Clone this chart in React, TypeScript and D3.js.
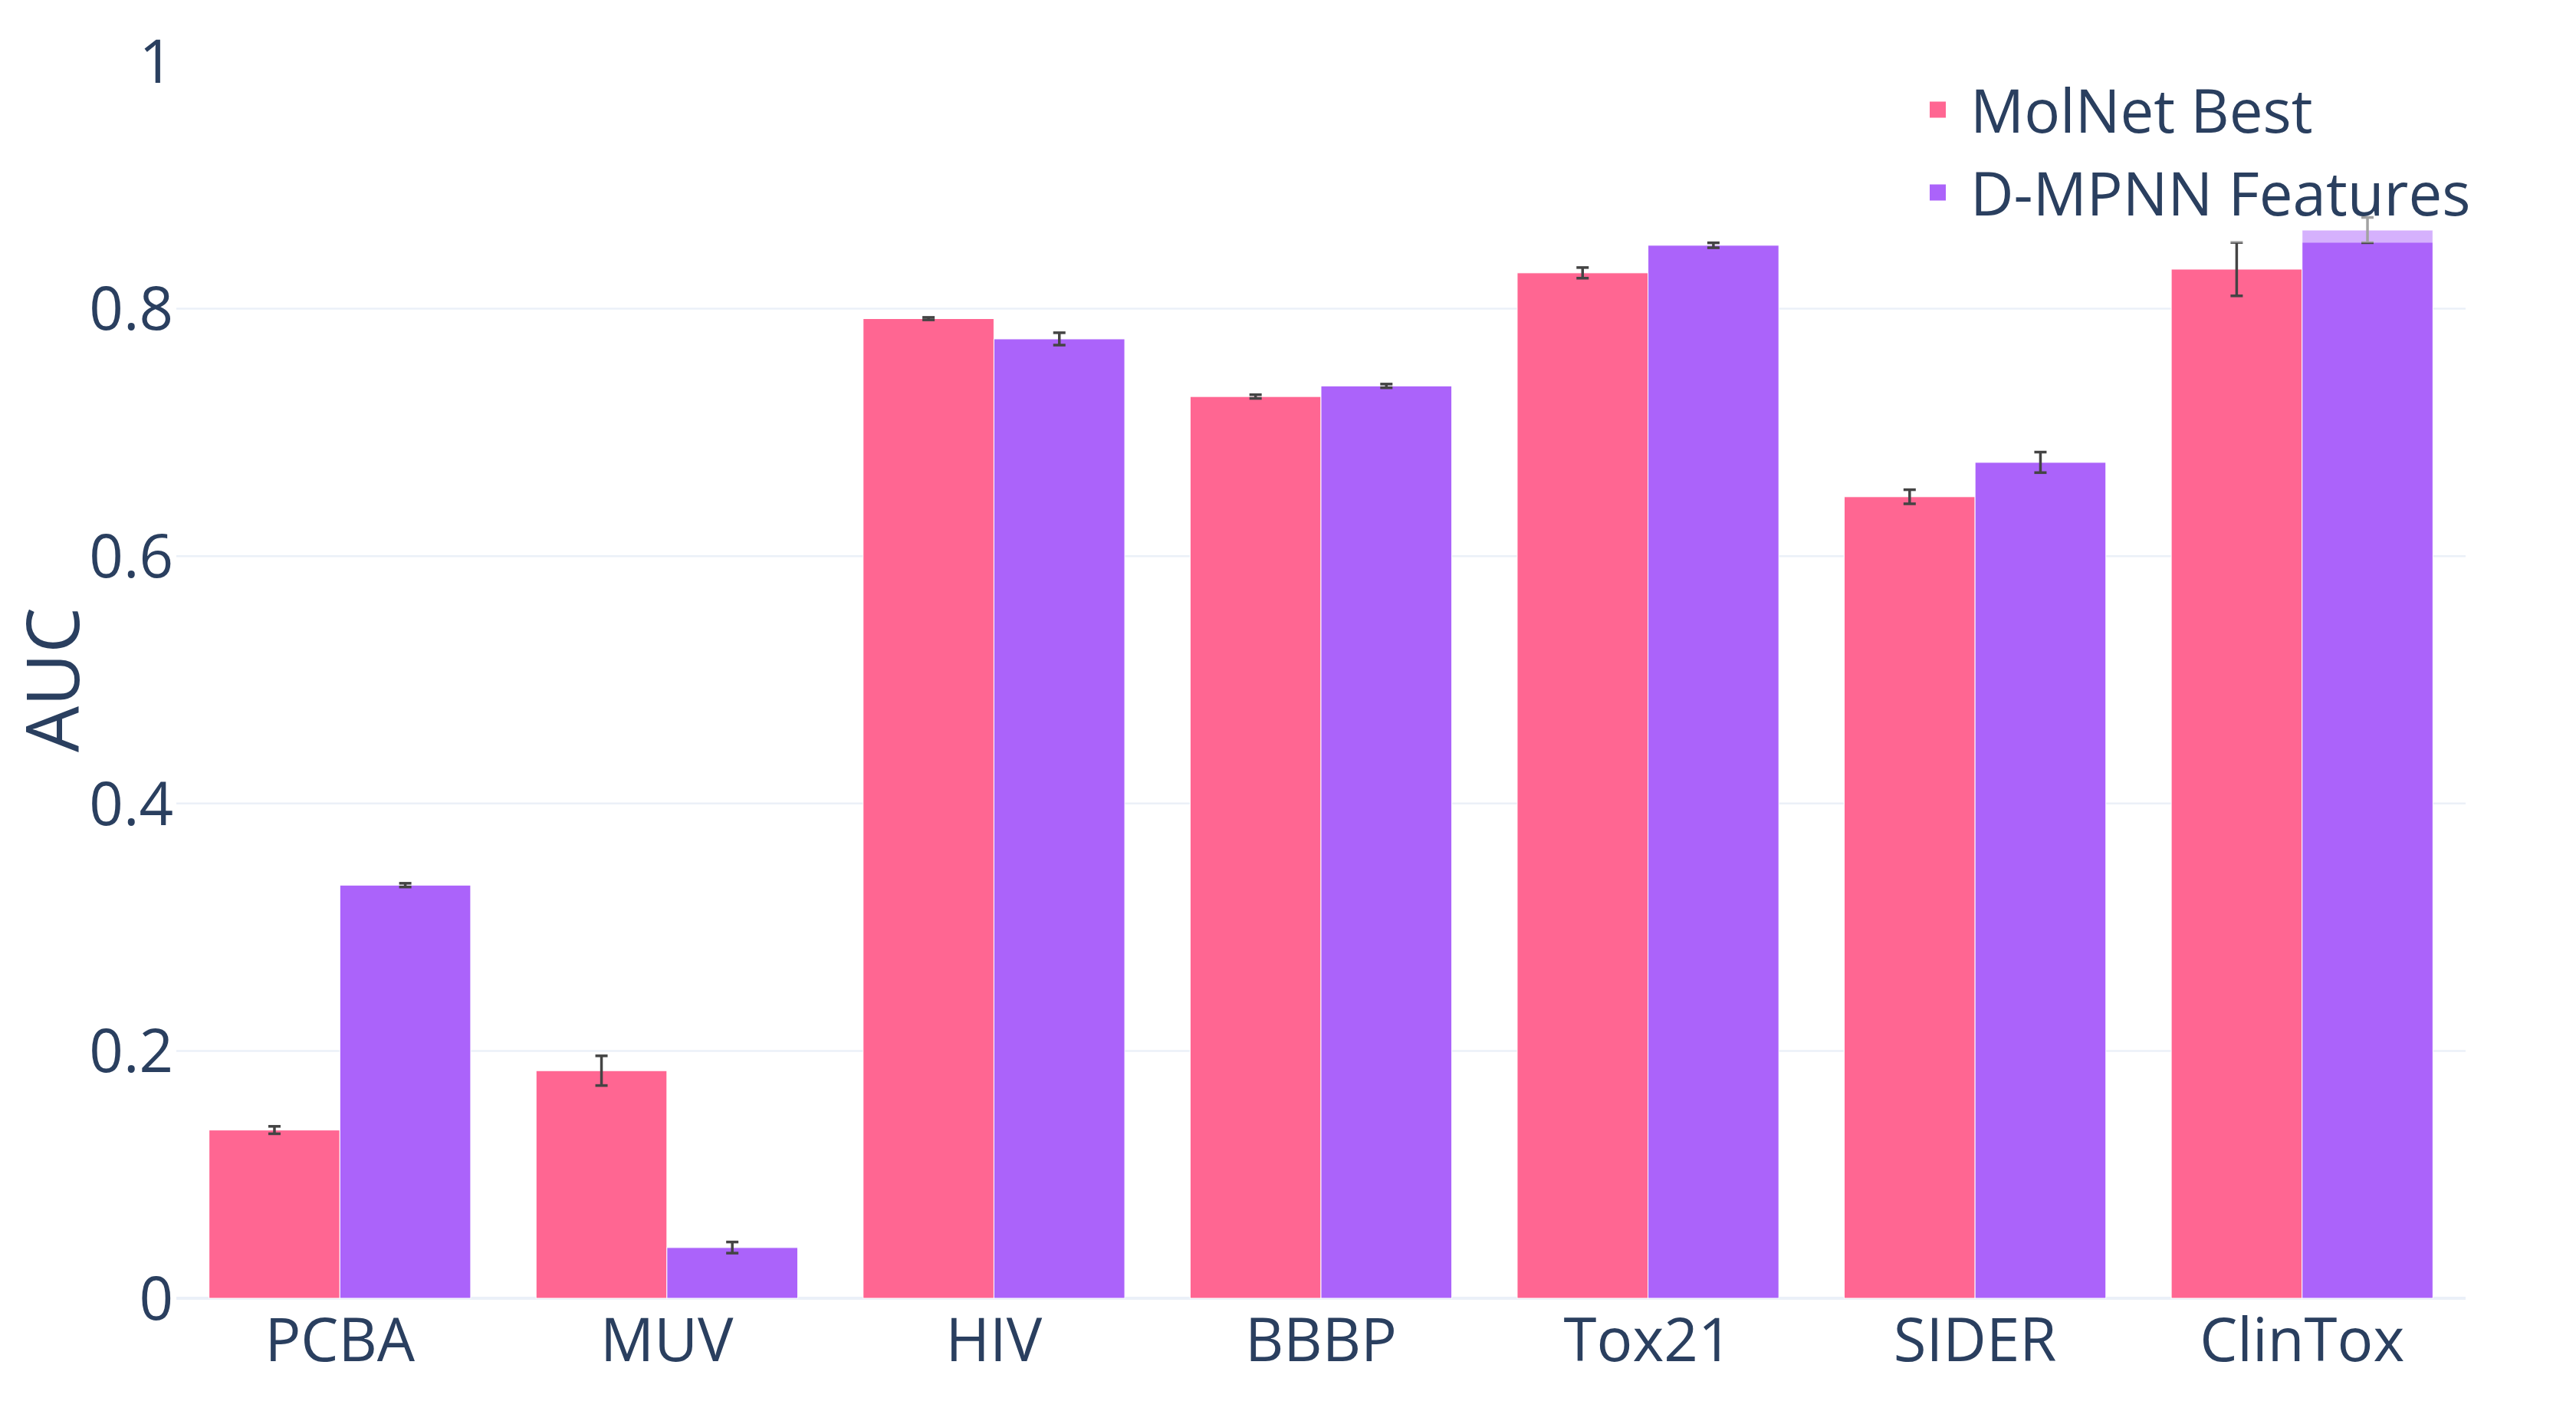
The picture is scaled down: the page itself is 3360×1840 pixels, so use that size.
import { useEffect } from 'react';
import * as d3 from 'd3';

// values
const categories = ['PCBA', 'MUV', 'HIV', 'BBBP', 'Tox21', 'SIDER', 'ClinTox'];
const seriesNames = ['MolNet Best', 'D-MPNN Features'];
const molnetBest = [0.136, 0.184, 0.792, 0.729, 0.829, 0.648, 0.832];
const molnetBestErr = [0.003, 0.012, 0.001, 0.0015, 0.0043, 0.0057, 0.0216];
const dmpnnFeatures = [0.334, 0.041, 0.7756, 0.7376, 0.8513, 0.6758, 0.8636];
const dmpnnFeaturesErr = [0.0015, 0.0045, 0.005, 0.0015, 0.002, 0.0083, 0.0102];
const yTicks = [0, 0.2, 0.4, 0.6, 0.8, 1];

const colors = ['#FF6692', '#AB63FA'];
const textColor = '#2a3f5f';
const gridColor = '#EBF0F8';
const font = '"Open Sans", "Noto Sans", sans-serif';

const width = 3360;
const height = 1840;
const margin = { top: 80, right: 144, bottom: 147, left: 230 };
const tickSize = 78;

export default function App() {
  useEffect(() => {
    document.body.style.margin = '0';
  }, []);

  const x = d3.scaleBand<string>()
    .domain(categories)
    .range([margin.left, width - margin.right])
    .paddingInner(0.2)
    .paddingOuter(0.1);

  const xSub = d3.scaleBand<string>()
    .domain(seriesNames)
    .range([0, x.bandwidth()]);

  const y = d3.scaleLinear()
    .domain([0, 1])
    .range([height - margin.bottom, margin.top]);

  const series = [
    { name: seriesNames[0], values: molnetBest, errs: molnetBestErr, color: colors[0] },
    { name: seriesNames[1], values: dmpnnFeatures, errs: dmpnnFeaturesErr, color: colors[1] },
  ];

  const fmt = (v: number) => String(+v.toFixed(1));
  const capHalf = 8;

  return (
    <svg width={width} height={height} style={{ display: 'block', background: '#fff' }} fontFamily={font}>
      {/* grid */}
      {yTicks.filter(t => t > 0 && t < 1).map(t => (
        <line key={t} x1={margin.left} x2={width - margin.right} y1={y(t)} y2={y(t)}
          stroke={gridColor} strokeWidth={2.5} />
      ))}
      <line x1={margin.left} x2={width - margin.right} y1={y(0)} y2={y(0)} stroke={gridColor} strokeWidth={4} />

      {/* bars */}
      {series.map(s => (
        <g key={s.name}>
          {categories.map((c, i) => (
            <rect key={c}
              x={(x(c) ?? 0) + (xSub(s.name) ?? 0)}
              y={y(s.values[i])}
              width={xSub.bandwidth()}
              height={y(0) - y(s.values[i])}
              fill={s.color}
              stroke="#fff" strokeWidth={1} />
          ))}
        </g>
      ))}

      {/* error bars */}
      {series.map(s => (
        <g key={s.name + '-err'} stroke="#444" strokeWidth={3.5}>
          {categories.map((c, i) => {
            const cx = (x(c) ?? 0) + (xSub(s.name) ?? 0) + xSub.bandwidth() / 2;
            const y1 = y(s.values[i] + s.errs[i]);
            const y2 = y(s.values[i] - s.errs[i]);
            return (
              <g key={c}>
                <line x1={cx} x2={cx} y1={y1} y2={y2} />
                <line x1={cx - capHalf} x2={cx + capHalf} y1={y1} y2={y1} />
                <line x1={cx - capHalf} x2={cx + capHalf} y1={y2} y2={y2} />
              </g>
            );
          })}
        </g>
      ))}

      {/* y axis labels */}
      {yTicks.map(t => (
        <text key={t} x={margin.left - 4} y={y(t) + tickSize * 0.357} textAnchor="end"
          fontSize={tickSize} fill={textColor}>{fmt(t)}</text>
      ))}
      <text transform={`translate(103,${(margin.top + height - margin.bottom) / 2}) rotate(-90)`}
        textAnchor="middle" fontSize={95} fill={textColor}>AUC</text>

      {/* x axis labels */}
      {categories.map(c => (
        <text key={c} x={(x(c) ?? 0) + x.bandwidth() / 2} y={1775} textAnchor="middle"
          fontSize={tickSize} fill={textColor}>{c}</text>
      ))}

      {/* legend */}
      <g>
        <rect x={2497} y={78} width={760} height={238.5} fill="rgba(255,255,255,0.5)" />
        {series.map((s, i) => {
          const cy = 143 + i * 108;
          return (
            <g key={s.name + '-leg'}>
              <rect x={2517} y={cy - 10.5} width={21} height={21} fill={s.color} />
              <text x={2570} y={cy + 2 + tickSize * 0.357} fontSize={tickSize} fill={textColor}>{s.name}</text>
            </g>
          );
        })}
      </g>
    </svg>
  );
}
